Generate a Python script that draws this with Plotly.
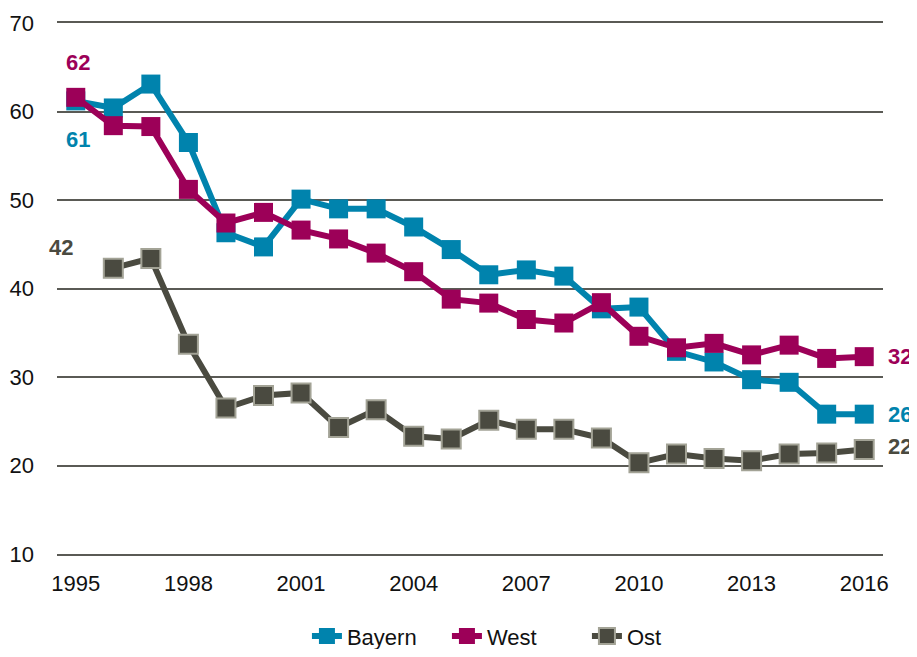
import plotly.graph_objects as go

years = list(range(1995, 2017))
bayern = [61.2, 60.4, 63.1, 56.5, 46.3, 44.7, 50.1, 49.0, 49.0, 46.95, 44.4, 41.55,
          42.1, 41.4, 37.7, 37.9, 32.9, 31.7, 29.7, 29.4, 25.8, 25.8]
west = [61.6, 58.4, 58.3, 51.2, 47.4, 48.6, 46.6, 45.6, 44.0, 41.9, 38.8, 38.35,
        36.5, 36.1, 38.4, 34.6, 33.3, 33.8, 32.5, 33.6, 32.1, 32.3]
ost_years = list(range(1996, 2017))
ost = [42.3, 43.4, 33.7, 26.5, 27.9, 28.2, 24.3, 26.3, 23.3, 23.0, 25.1, 24.1,
       24.1, 23.1, 20.3, 21.3, 20.8, 20.55, 21.3, 21.4, 21.8]

x_ticks = [1995, 1998, 2001, 2004, 2007, 2010, 2013, 2016]
y_ticks = [10, 20, 30, 40, 50, 60, 70]

BLUE = "#0083AD"
MAGENTA = "#9C0058"
GRAY = "#4A4A40"
GRID = "#5a5a55"
FONT = "Liberation Sans, Arial, sans-serif"

fig = go.Figure()
fig.add_trace(go.Scatter(x=years, y=bayern, name="Bayern", mode="lines+markers",
                         line=dict(color=BLUE, width=6),
                         marker=dict(symbol="square", size=19, color=BLUE)))
fig.add_trace(go.Scatter(x=years, y=west, name="West", mode="lines+markers",
                         line=dict(color=MAGENTA, width=6),
                         marker=dict(symbol="square", size=19, color=MAGENTA)))
fig.add_trace(go.Scatter(x=ost_years, y=ost, name="Ost", mode="lines+markers",
                         line=dict(color=GRAY, width=6),
                         marker=dict(symbol="square", size=19, color=GRAY,
                                     line=dict(color="#A3A396", width=2))))

# start labels (inside the x range, data-referenced)
start_labels = [
    (1995.05, 65.5, "62", MAGENTA),
    (1995.05, 56.8, "61", BLUE),
    (1994.6, 44.6, "42", GRAY),
]
for x, y, t, c in start_labels:
    fig.add_annotation(x=x, y=y, xref="x", yref="y", text=f"<b>{t}</b>", showarrow=False,
                       xanchor="center", font=dict(family=FONT, size=22, color=c))

# end labels to the right of the plot area
end_labels = [
    (west[-1], "32", MAGENTA),
    (bayern[-1], "26", BLUE),
    (ost[-1] + 0.3, "22", GRAY),
]
for y, t, c in end_labels:
    fig.add_annotation(x=1.021, y=y, xref="paper", yref="y", text=f"<b>{t}</b>",
                       showarrow=False, xanchor="center",
                       font=dict(family=FONT, size=22, color=c))

fig.update_layout(
    width=917, height=641,
    margin=dict(l=49, r=42, t=15, b=95, autoexpand=False),
    plot_bgcolor="white", paper_bgcolor="white",
    font=dict(family=FONT, size=22, color="#111111"),
    showlegend=True,
    legend=dict(orientation="h", x=0.555, xanchor="center", xref="container",
                y=0.02, yanchor="middle", yref="container",
                font=dict(family=FONT, size=22, color="#111111"),
                entrywidth=95, tracegroupgap=0),
)
fig.update_xaxes(range=[1994.5, 2016.5], tickvals=x_ticks, showgrid=False,
                 zeroline=False, showline=True, mirror=True, linecolor=GRID,
                 linewidth=1.5, ticks="", ticklabelstandoff=9, tickfont=dict(size=22))
fig.update_yaxes(range=[10, 70], tickvals=y_ticks, showgrid=True, gridcolor=GRID,
                 gridwidth=1.5, zeroline=False, showline=False, ticks="",
                 ticklabelstandoff=22, tickfont=dict(size=22))

fig.write_html("out.html")
